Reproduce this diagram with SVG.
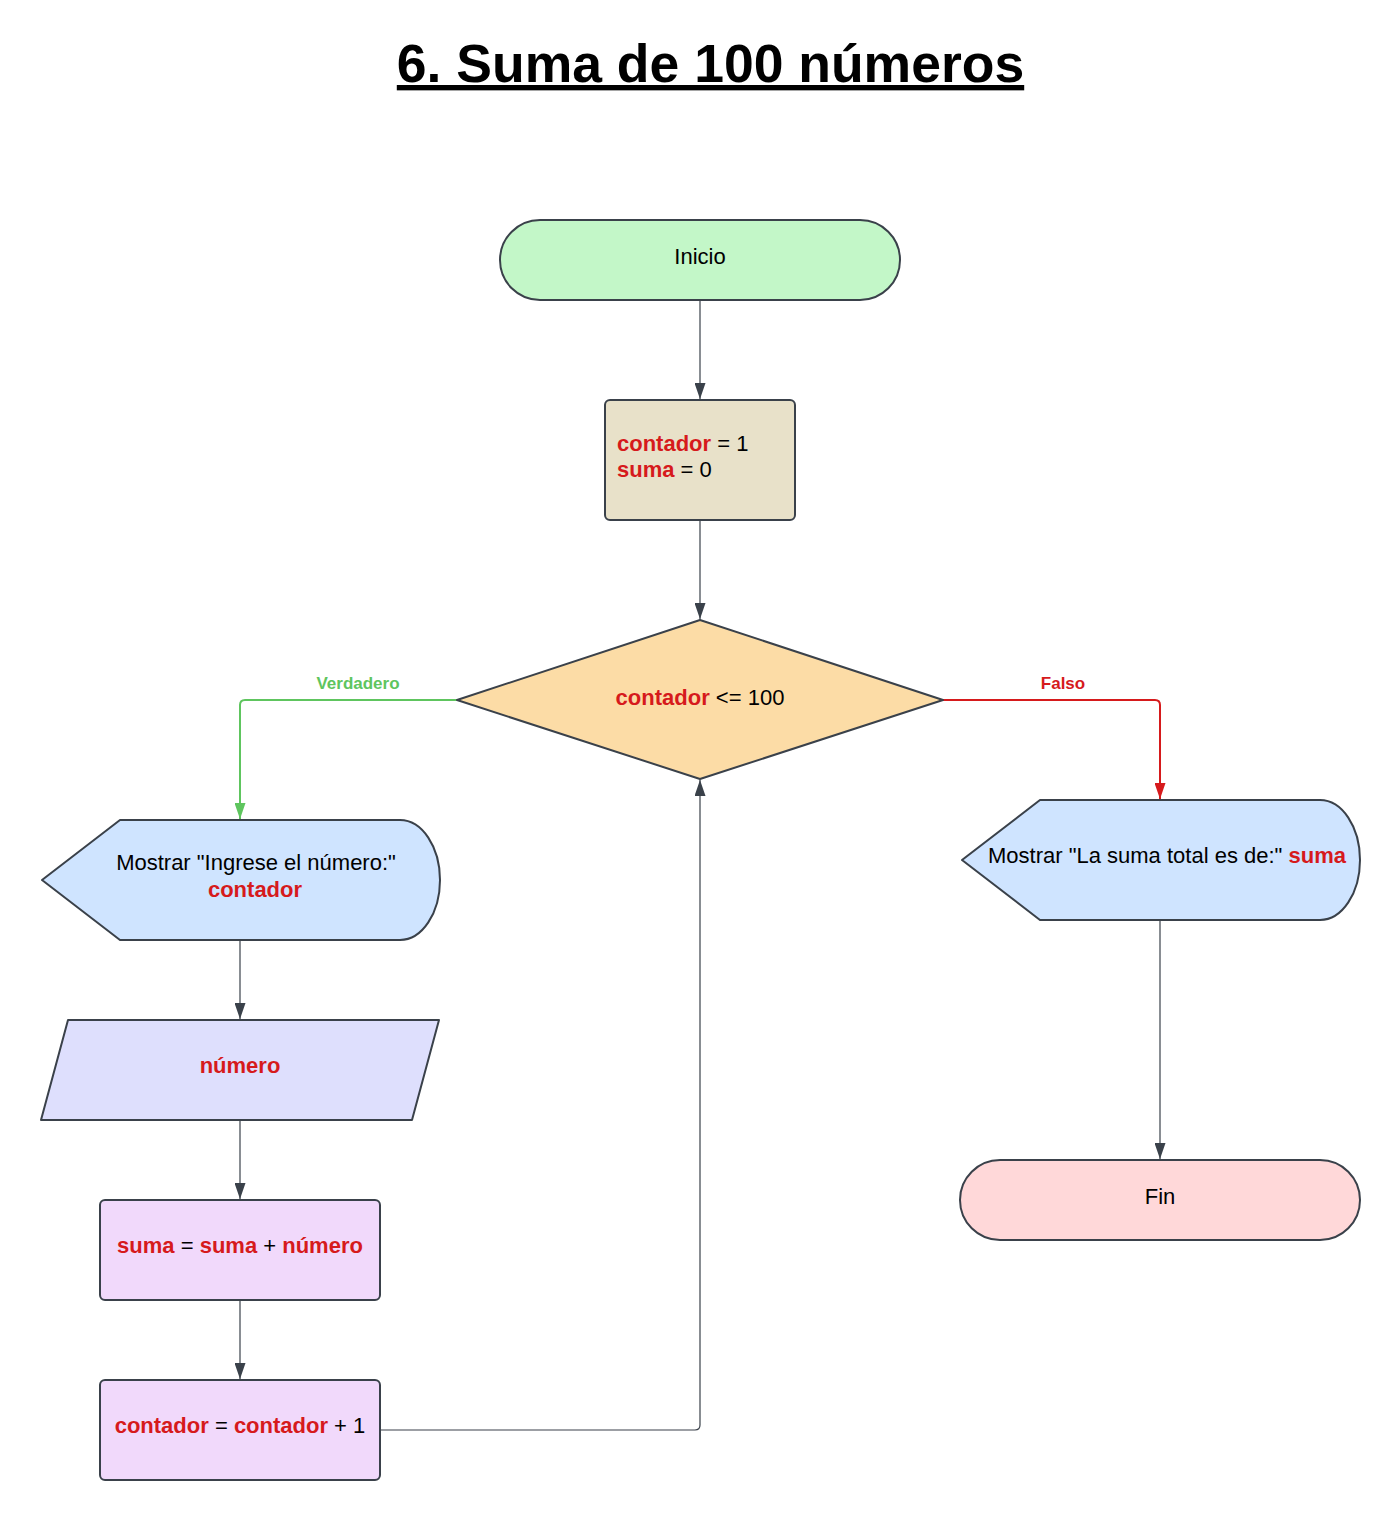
<svg xmlns="http://www.w3.org/2000/svg" width="1400" height="1520" viewBox="0 0 1400 1520">
<style>
text{font-family:"Liberation Sans",Arial,sans-serif;fill:#000}
.t{font-size:22px}
.r{fill:#d61a1c;font-weight:bold}
.shape{stroke:#3a414a;stroke-width:2;stroke-linejoin:round}
.conn{fill:none;stroke:#3a414a;stroke-width:1.2}
.lbl{font-size:17px;font-weight:bold}
</style>
<defs>
<marker id="ad" viewBox="0 0 16 11" markerWidth="16" markerHeight="11" markerUnits="userSpaceOnUse" refX="16" refY="5.5" orient="auto"><path d="M0,0 L16,5.5 L0,11 z" fill="#3a414a"/></marker>
<marker id="ag" viewBox="0 0 16 11" markerWidth="16" markerHeight="11" markerUnits="userSpaceOnUse" refX="16" refY="5.5" orient="auto"><path d="M0,0 L16,5.5 L0,11 z" fill="#5ec55e"/></marker>
<marker id="ar" viewBox="0 0 16 11" markerWidth="16" markerHeight="11" markerUnits="userSpaceOnUse" refX="16" refY="5.5" orient="auto"><path d="M0,0 L16,5.5 L0,11 z" fill="#d61a1c"/></marker>
</defs>
<rect width="1400" height="1520" fill="#fff"/>
<text x="710.5" y="82" text-anchor="middle" font-size="53.5" font-weight="bold" text-decoration="underline">6. Suma de 100 números</text>

<g id="connectors">
<path class="conn" d="M700,300 V399" marker-end="url(#ad)"/>
<path class="conn" d="M700,520 V619" marker-end="url(#ad)"/>
<path d="M457,700 H245 Q240,700 240,705 V819" fill="none" stroke="#5ec55e" stroke-width="2" marker-end="url(#ag)"/>
<path d="M943,700 H1155 Q1160,700 1160,705 V799" fill="none" stroke="#d61a1c" stroke-width="2" marker-end="url(#ar)"/>
<path class="conn" d="M240,940 V1019" marker-end="url(#ad)"/>
<path class="conn" d="M240,1120 V1199" marker-end="url(#ad)"/>
<path class="conn" d="M240,1300 V1379" marker-end="url(#ad)"/>
<path class="conn" d="M380,1430 H695 Q700,1430 700,1425 V780" marker-end="url(#ad)"/>
<path class="conn" d="M1160,920 V1159" marker-end="url(#ad)"/>
<text class="lbl" x="358" y="689" text-anchor="middle" style="fill:#5ec55e">Verdadero</text>
<text class="lbl" x="1063" y="689" text-anchor="middle" style="fill:#d61a1c">Falso</text>
</g>

<g id="inicio">
<rect class="shape" x="500" y="220" width="400" height="80" rx="40" fill="#c3f7c8"/>
<text class="t" x="700" y="264" text-anchor="middle">Inicio</text>
</g>

<g id="init">
<rect class="shape" x="605" y="400" width="190" height="120" rx="5" fill="#e8e1c9"/>
<text class="t" x="617" y="451"><tspan class="r">contador</tspan> = 1</text>
<text class="t" x="617" y="477"><tspan class="r">suma</tspan> = 0</text>
</g>

<g id="decision">
<polygon class="shape" points="700,620 943,700 700,779 457,700" fill="#fcdca6"/>
<text class="t" x="700" y="705" text-anchor="middle"><tspan class="r">contador</tspan> &lt;= 100</text>
</g>

<g id="mostrar-ingrese">
<path class="shape" d="M42,880 L120,820 L400,820 A40,60 0 0 1 400,940 L120,940 Z" fill="#cfe4ff"/>
<text class="t" x="256" y="870" text-anchor="middle">Mostrar "Ingrese el número:"</text>
<text class="t r" x="255" y="897" text-anchor="middle">contador</text>
</g>

<g id="leer-numero">
<polygon class="shape" points="68,1020 439,1020 412,1120 41,1120" fill="#dedffd"/>
<text class="t r" x="240" y="1073" text-anchor="middle">número</text>
</g>

<g id="suma">
<rect class="shape" x="100" y="1200" width="280" height="100" rx="5" fill="#f1d9fb"/>
<text class="t" x="240" y="1253" text-anchor="middle"><tspan class="r">suma</tspan> = <tspan class="r">suma</tspan> + <tspan class="r">número</tspan></text>
</g>

<g id="incremento">
<rect class="shape" x="100" y="1380" width="280" height="100" rx="5" fill="#f1d9fb"/>
<text class="t" x="240" y="1433" text-anchor="middle"><tspan class="r">contador</tspan> = <tspan class="r">contador</tspan> + 1</text>
</g>

<g id="mostrar-suma">
<path class="shape" d="M962,860 L1040,800 L1320,800 A40,60 0 0 1 1320,920 L1040,920 Z" fill="#cfe4ff"/>
<text class="t" x="1167" y="863" text-anchor="middle">Mostrar "La suma total es de:" <tspan class="r">suma</tspan></text>
</g>

<g id="fin">
<rect class="shape" x="960" y="1160" width="400" height="80" rx="40" fill="#ffd8d9"/>
<text class="t" x="1160" y="1204" text-anchor="middle">Fin</text>
</g>
</svg>
